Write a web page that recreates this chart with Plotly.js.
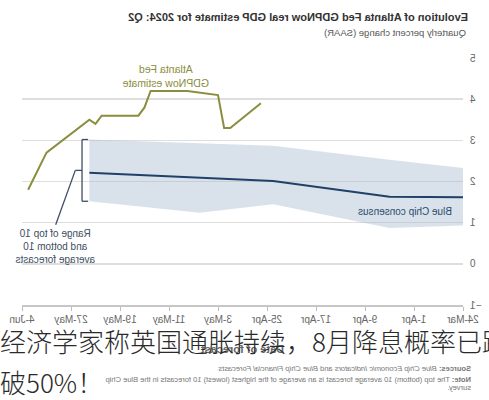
<!DOCTYPE html>
<html>
<head>
<meta charset="utf-8">
<script src="https://cdn.plot.ly/plotly-3.0.1.min.js"></script>
<style>
  html, body { margin: 0; padding: 0; background: #fff; }
  #wrap { position: relative; width: 489px; height: 400px; overflow: hidden; }
  #plot { position: absolute; left: 0; top: 0; width: 489px; height: 400px; transform: scaleX(-1); transform-origin: center; }
  #overlay { position: absolute; left: 0; top: 320px; width: 489px; overflow: hidden;
             font-family: "Noto Sans CJK SC", sans-serif; font-weight: 300; font-size: 26px;
             line-height: 41px; color: #2a2a2a; white-space: nowrap; }
</style>
</head>
<body>
<div id="wrap">
  <div id="plot"></div>
  <div id="overlay"><div>经济学家称英国通胀持续，8月降息概率已跌</div><div>破50%！</div></div>
</div>
<script>
// ---- data ----
const gdpNowDates = ['2024-04-26','2024-05-01','2024-05-02','2024-05-03','2024-05-08','2024-05-14','2024-05-15','2024-05-16','2024-05-22','2024-05-23','2024-05-24','2024-05-31','2024-06-03'];
const gdpNowValues = [3.9, 3.3, 3.3, 4.1, 4.2, 4.2, 3.8, 3.6, 3.6, 3.4, 3.5, 2.7, 1.8];

const blueChipDates = ['2024-03-24','2024-04-05','2024-04-24','2024-05-06','2024-05-24'];
const blueChipConsensus = [1.62, 1.63, 2.01, 2.09, 2.21];
const blueChipTop10 = [2.33, 2.53, 2.87, 2.93, 3.02];
const blueChipBottom10 = [0.93, 0.87, 1.45, 1.24, 1.52];

const xRange = ['2024-03-24','2024-06-04'];
const yTickValues = [-1, 0, 1, 2, 3, 4, 5];

const titleText = 'Evolution of Atlanta Fed GDPNow real GDP estimate for 2024: Q2';
const subtitleText = 'Quarterly percent change (SAAR)';
const xTitleText = 'Date of forecast';
const gdpLabel = 'Atlanta Fed<br>GDPNow estimate';
const rangeLabel = 'Range of top 10<br>and bottom 10<br>average forecasts';
const consensusLabel = 'Blue Chip consensus';
const sourcesText = '<b>Sources:</b> <i>Blue Chip Economic Indicators</i> and <i>Blue Chip Financial Forecasts</i>';
const noteText = '<b>Note:</b> The top (bottom) 10 average forecast is an average of the highest (lowest) 10 forecasts in the Blue Chip';
const noteText2 = 'survey.';

// ---- helpers ----
const DAY = 86400000;
function shiftDate(s, days) {
  const t = new Date(s + 'T00:00:00Z').getTime() + days * DAY;
  return new Date(t).toISOString().slice(0, 19).replace('T', ' ');
}
const FONT = '"Liberation Sans", Arial, sans-serif';
const GREEN = '#8b8d3e';
const NAVY = '#1f4068';
const SLATE = '#3e4e62';

const n = blueChipDates.length - 1;
const lastBand = blueChipDates[n];
const bracketX = shiftDate(lastBand, 1.2);
const serifX = shiftDate(lastBand, 0.2);
const bracketMid = (blueChipTop10[n] + blueChipBottom10[n]) / 2;
const elbowX = shiftDate(lastBand, 2.3);
const pointerEndX = shiftDate(lastBand, 5.5);

const traces = [
  { x: blueChipDates, y: blueChipBottom10, mode: 'lines', line: { width: 0 }, hoverinfo: 'skip' },
  { x: blueChipDates, y: blueChipTop10, mode: 'lines', line: { width: 0 }, fill: 'tonexty',
    fillcolor: 'rgba(165,185,205,0.42)', hoverinfo: 'skip' },
  { x: blueChipDates, y: blueChipConsensus, mode: 'lines', line: { color: NAVY, width: 2 } },
  { x: gdpNowDates, y: gdpNowValues, mode: 'lines', line: { color: GREEN, width: 2 } }
];

function seg(x0, y0, x1, y1) {
  return { type: 'line', xref: 'x', yref: 'y', x0: x0, y0: y0, x1: x1, y1: y1,
           line: { color: SLATE, width: 1.3 } };
}

const layout = {
  width: 489, height: 400,
  margin: { l: 26, r: 22, t: 58, b: 95 },
  paper_bgcolor: '#fff', plot_bgcolor: '#fff',
  showlegend: false,
  font: { family: FONT, color: '#555' },
  title: {
    text: '<b>' + titleText + '</b>',
    font: { family: FONT, size: 11, color: '#333' },
    xref: 'container', x: 21 / 489, xanchor: 'left',
    yref: 'container', y: 1 - 16.7 / 400, yanchor: 'middle'
  },
  xaxis: {
    type: 'date', range: xRange,
    tick0: xRange[0], dtick: 8 * DAY, tickformat: '%-d-%b',
    ticks: 'outside', ticklen: 4, tickcolor: '#bdbdbd', tickwidth: 1,
    showline: true, linecolor: '#c6c6c6', linewidth: 1.5,
    showgrid: false, zeroline: false,
    tickfont: { family: FONT, size: 10, color: '#666' },
    title: { text: '<b>' + xTitleText + '</b>', font: { family: FONT, size: 11, color: '#666' }, standoff: 22 }
  },
  yaxis: {
    range: [-1, 5], tickvals: yTickValues,
    showgrid: true, gridcolor: '#dedede', gridwidth: 1.5,
    zeroline: false, showline: false, ticks: '',
    ticklabelstandoff: 6,
    tickfont: { family: FONT, size: 10, color: '#666' }
  },
  shapes: [
    seg(serifX, blueChipTop10[n], bracketX, blueChipTop10[n]),
    seg(bracketX, blueChipTop10[n], bracketX, blueChipBottom10[n]),
    seg(bracketX, blueChipBottom10[n], serifX, blueChipBottom10[n]),
    seg(bracketX, bracketMid, elbowX, bracketMid),
    seg(elbowX, bracketMid, pointerEndX, 0.95)
  ],
  annotations: [
    { xref: 'paper', yref: 'paper', x: -0.0113, y: 1.104, xanchor: 'left', yanchor: 'middle',
      text: subtitleText, showarrow: false, font: { family: FONT, size: 9.5, color: '#555' } },
    { xref: 'x', yref: 'y', x: '2024-05-11 12:00', y: 4.56, text: gdpLabel, showarrow: false,
      align: 'center', font: { family: FONT, size: 10.5, color: GREEN } },
    { xref: 'x', yref: 'y', x: '2024-05-29 14:00', y: 0.43, text: rangeLabel, showarrow: false,
      align: 'center', font: { family: FONT, size: 10, color: SLATE } },
    { xref: 'x', yref: 'y', x: '2024-04-02 12:00', y: 1.26, text: consensusLabel, showarrow: false,
      font: { family: FONT, size: 10, color: '#2b4a6e' } },
    { xref: 'paper', yref: 'paper', x: -0.0227, y: -0.259, xanchor: 'left', yanchor: 'middle',
      text: sourcesText, showarrow: false, font: { family: FONT, size: 7.5, color: '#777' } },
    { xref: 'paper', yref: 'paper', x: -0.0227, y: -0.2996, xanchor: 'left', yanchor: 'middle',
      text: noteText, showarrow: false, font: { family: FONT, size: 7.5, color: '#777' } },
    { xref: 'paper', yref: 'paper', x: -0.0227, y: -0.336, xanchor: 'left', yanchor: 'middle',
      text: noteText2, showarrow: false, font: { family: FONT, size: 7.5, color: '#777' } }
  ]
};

Plotly.newPlot('plot', traces, layout, { staticPlot: true, displayModeBar: false });
</script>
</body>
</html>
